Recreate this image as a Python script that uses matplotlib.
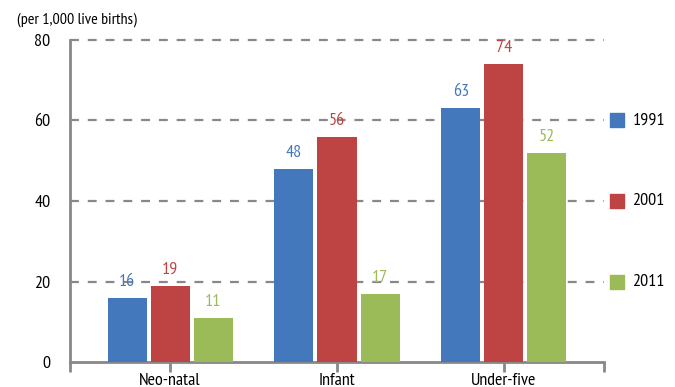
import matplotlib
matplotlib.use("Agg")
import matplotlib.pyplot as plt
import numpy as np

plt.rcParams['font.family'] = ['PT Sans Narrow', 'DejaVu Sans']

categories = ["Neo-natal", "Infant", "Under-five"]
years = ["1991", "2001", "2011"]
values_1991 = [16, 48, 63]
values_2001 = [19, 56, 74]
values_2011 = [11, 17, 52]
colors = ["#4378BC", "#BE4444", "#9BBB59"]
yticks = [0, 20, 40, 60, 80]

series = [values_1991, values_2001, values_2011]
FS = 13

fig = plt.figure(figsize=(6.75, 3.87), dpi=100)
ax = fig.add_axes([70 / 675, 1 - 362 / 387, 534 / 675, 322 / 387])

x = np.arange(len(categories))
width = 0.234
step = 0.258
for i, (vals, col, yr) in enumerate(zip(series, colors, years)):
    pos = x + (i - 1) * step
    ax.bar(pos, vals, width=width, color=col, zorder=3, label=yr)
    for p, v in zip(pos, vals):
        ax.text(p, v + 2.0, str(v), ha="center", va="bottom",
                color=col, fontsize=FS, zorder=4)

ax.set_xlim(-0.6, 2.6)
ax.set_ylim(0, 80)
ax.set_yticks(yticks)
ax.set_yticklabels([str(t) for t in yticks], fontsize=FS)
ax.tick_params(axis="y", length=0, pad=14)

ax.set_xticks(x)
ax.set_xticklabels(categories, fontsize=FS)
ax.set_xticks([-0.6, 2.6], minor=True)
ax.tick_params(axis="x", which="both", length=7, width=2, color="#888888", pad=1)

for t in yticks[1:]:
    ax.axhline(t, color="#888888", lw=1.6, ls=(0, (4, 4)), zorder=1, clip_on=False)

for s in ["top", "right"]:
    ax.spines[s].set_visible(False)
for s in ["left", "bottom"]:
    ax.spines[s].set_color("#888888")
    ax.spines[s].set_linewidth(2)

# legend entries aligned with the 60 / 40 / 20 gridlines
for yr, col, yv in zip(years, colors, [60, 40, 20]):
    ax.scatter([2.68], [yv], marker="s", s=105, color=col, clip_on=False, zorder=5)
    ax.text(2.77, yv, yr, ha="left", va="center", fontsize=FS, clip_on=False)

fig.text(17 / 675, 1 - 20 / 387, "(per 1,000 live births)", ha="left", va="center",
         fontsize=11.5)

fig.savefig("out.png", dpi=100)
